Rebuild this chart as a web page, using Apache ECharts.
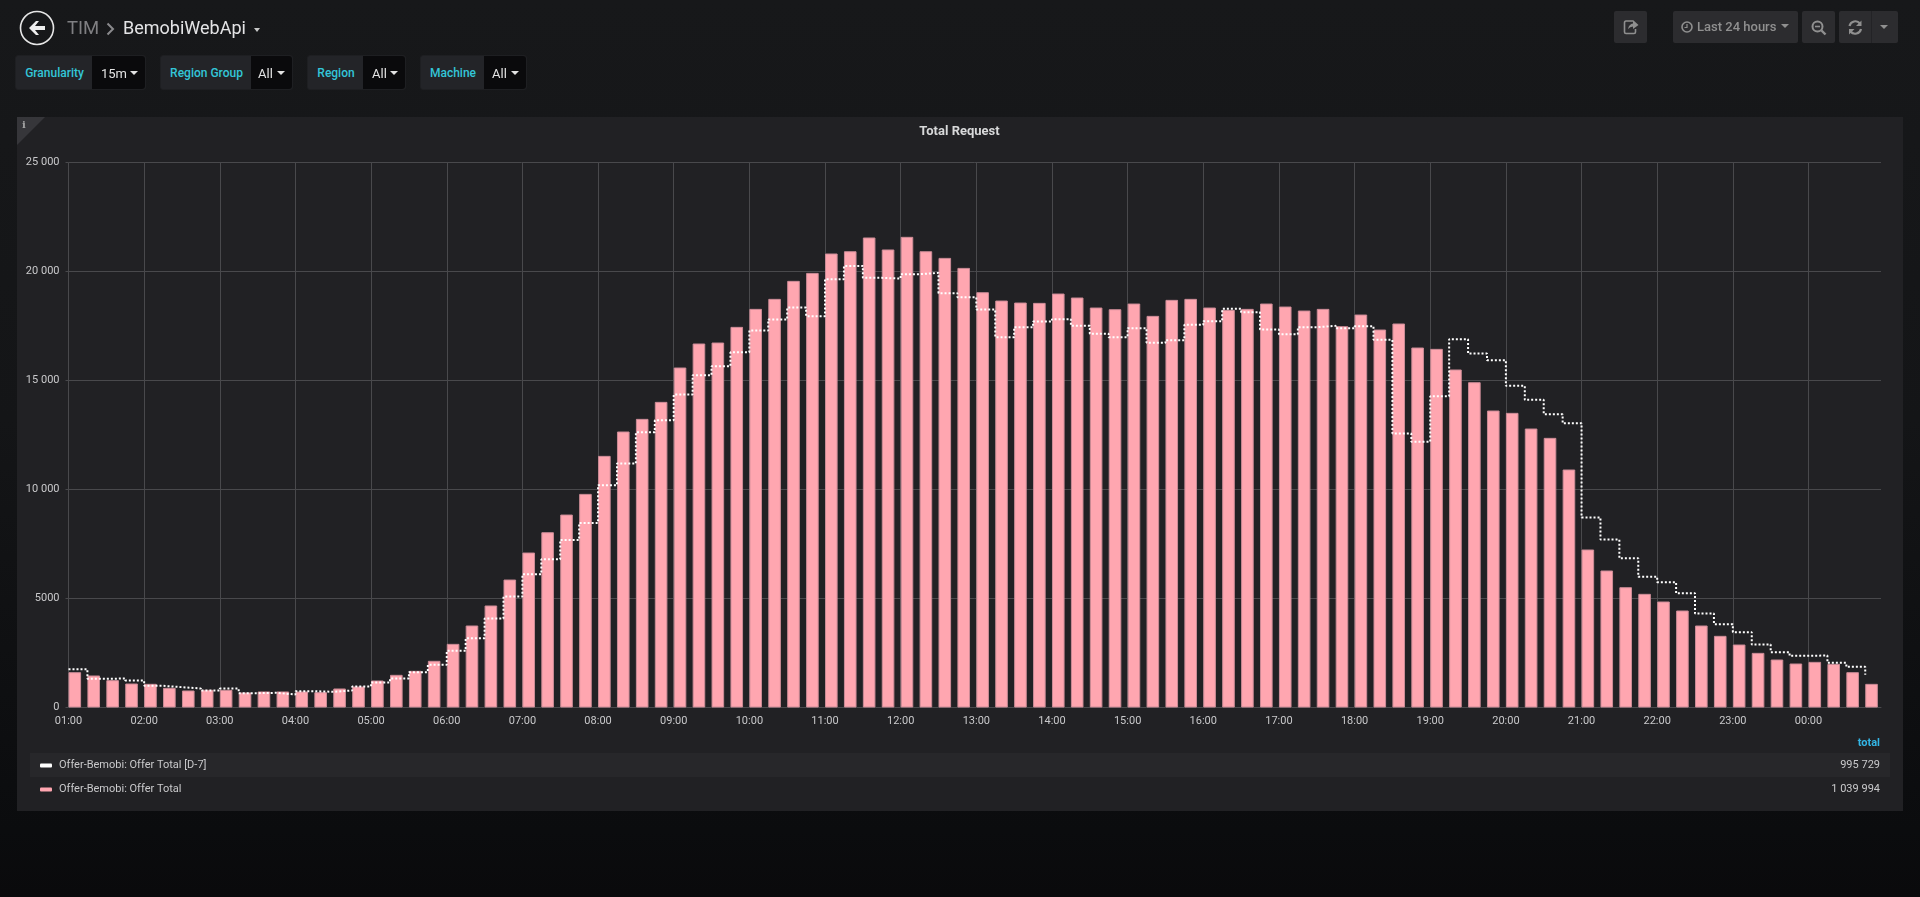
<!DOCTYPE html>
<html>
<head>
<meta charset="utf-8">
<title>Total Request</title>
<script src="https://cdn.jsdelivr.net/npm/echarts@6/dist/echarts.min.js"></script>
<style>
html,body{margin:0;padding:0;width:1920px;height:897px;overflow:hidden;background:linear-gradient(#17181a 0,#141517 420px,#0b0c0e 830px,#0a0a0c 897px);font-family:Roboto,sans-serif}
#chart{position:absolute;left:0;top:0;width:1920px;height:897px;z-index:2}
.panel{position:absolute;left:17px;top:117px;width:1886px;height:694px;background:#212124;z-index:1}
.corner{position:absolute;left:17px;top:117px;width:0;height:0;border-top:28px solid #36363a;border-right:28px solid transparent;z-index:3}
.i{position:absolute;left:22px;top:119px;font:bold 10px "DejaVu Serif",serif;color:#a5a5a5;z-index:4}
.nav{position:absolute;z-index:4;white-space:nowrap}
.var{position:absolute;top:55px;height:35px;background:#232428;border:1px solid #1e1f22;border-radius:3px;box-sizing:border-box;z-index:4}
.var .l{position:absolute;top:0;bottom:0;left:0;line-height:34px;text-align:center;font-size:12px;font-weight:500;color:#33c6d8}
.var .v{position:absolute;top:0;bottom:0;right:0;background:#0a0a0c;line-height:35px;font-size:13px;color:#e3e3e3;border-radius:0 3px 3px 0}
.caret{position:absolute;width:0;height:0;border-left:4px solid transparent;border-right:4px solid transparent;border-top:4px solid #e3e3e3}
.btn{position:absolute;top:11px;height:32px;background:#2c2c2f;border-radius:2px;z-index:4;color:#909090;font-size:13px;font-weight:500;line-height:32px;box-sizing:border-box}
svg{position:absolute;overflow:visible}
</style>
</head>
<body>
<div class="panel"></div>
<div class="corner"></div>
<div class="i">i</div>

<svg style="left:0;top:0;z-index:4" width="80" height="56">
  <circle cx="37" cy="28" r="16.5" fill="none" stroke="#e6e6e6" stroke-width="1.6"/>
  <path d="M29 28 L36 21 L39 21 L35 26 L45 26 L45 30 L35 30 L39 35 L36 35 Z" fill="#eeeeee"/>
</svg>
<div class="nav" style="left:67px;top:16px;font-size:18.500px;line-height:24px;color:#7f7f82">TIM</div>
<svg style="left:106px;top:22px;z-index:4" width="10" height="14"><path d="M1.5 1.5 L7 7 L1.5 12.5" fill="none" stroke="#8a8a8d" stroke-width="2"/></svg>
<div class="nav" style="left:123px;top:16px;font-size:18px;line-height:24px;color:#e4e4e6">BemobiWebApi</div>
<div class="caret" style="left:254px;top:28px;z-index:4;border-left-width:3.5px;border-right-width:3.5px;border-top-color:#c8c8c8"></div>

<div class="var" style="left:15px;width:131px"><div class="l" style="width:77px">Granularity</div><div class="v" style="width:53px"><span style="position:absolute;left:9px">15m</span><i class="caret" style="left:38px;top:15px"></i></div></div>
<div class="var" style="left:160px;width:133px"><div class="l" style="width:91px">Region Group</div><div class="v" style="width:41px"><span style="position:absolute;left:7px">All</span><i class="caret" style="left:26px;top:15px"></i></div></div>
<div class="var" style="left:307px;width:99px"><div class="l" style="width:56px">Region</div><div class="v" style="width:42px"><span style="position:absolute;left:9px">All</span><i class="caret" style="left:27px;top:15px"></i></div></div>
<div class="var" style="left:420px;width:107px"><div class="l" style="width:64px">Machine</div><div class="v" style="width:42px"><span style="position:absolute;left:8px">All</span><i class="caret" style="left:27px;top:15px"></i></div></div>

<div class="btn" style="left:1614px;width:33px">
  <svg style="left:9px;top:7px" width="16" height="18"><path d="M10 3 H3 Q1.500 3 1.500 5 V14 Q1.500 15.500 3 15.500 H11 Q12.500 15.500 12.500 14 V11" fill="none" stroke="#8f8f8f" stroke-width="1.600"/><path d="M5 11 Q6 6 10 5.500 V2 L15.500 7 L10 11 V8.500 Q7 8.500 5 11 Z" fill="#8f8f8f"/></svg>
</div>
<div class="btn" style="left:1673px;width:125px">
  <svg style="left:8px;top:10px" width="13" height="13"><circle cx="6" cy="6" r="5" fill="none" stroke="#909090" stroke-width="1.600"/><path d="M6 3 V6.500 H3.500" fill="none" stroke="#909090" stroke-width="1.200"/></svg>
  <span style="position:absolute;left:24px;white-space:nowrap">Last 24 hours</span>
  <i class="caret" style="left:108px;top:13px;border-top-color:#909090"></i>
</div>
<div class="btn" style="left:1802px;width:33px">
  <svg style="left:9px;top:9px" width="16" height="16"><circle cx="6.500" cy="6.500" r="5" fill="none" stroke="#909090" stroke-width="2"/><path d="M4 6.500 H9" stroke="#909090" stroke-width="1.600"/><path d="M10.500 10.500 L14.500 14.500" stroke="#909090" stroke-width="2.400"/></svg>
</div>
<div class="btn" style="left:1839px;width:59px">
  <svg style="left:9px;top:9px" width="15" height="15"><path d="M1.500 6 A6 6 0 0 1 12 3.500" fill="none" stroke="#909090" stroke-width="2.200"/><path d="M13.500 0.500 V6 H8 Z" fill="#909090"/><path d="M13 9 A6 6 0 0 1 2.500 11.500" fill="none" stroke="#909090" stroke-width="2.200"/><path d="M1 14.500 V9 H6.500 Z" fill="#909090"/></svg>
  <div style="position:absolute;left:31.500px;top:0;bottom:0;width:1px;background:#232326"></div>
  <i class="caret" style="left:41px;top:14px;border-top-color:#909090"></i>
</div>

<div id="chart"></div>

<script>
var slotMinutes = [];
for (var m = 0; m < 96; m++) { slotMinutes.push(m * 15); }

var offerTotal = [
  1620,1468,1254,1100,1086,902,780,810,810,688,734,734,734,703,872,963,
  1238,1498,1682,2141,2920,3761,4679,5870,7108,8041,8851,9799,11543,12660,13240,14020,
  15595,16697,16742,17460,18286,18745,19570,19935,20825,20930,21560,21010,21590,20930,20625,20165,
  19050,18668,18576,18561,18989,18806,18347,18271,18530,17965,18699,18745,18347,18240,18286,18530,
  18393,18209,18286,17491,18026,17338,17614,16513,16452,15504,14923,13623,13516,12797,12369,10917,
  7247,6284,5519,5214,4862,4449,3761,3287,2889,2507,2201,2018,2094,2002,1620,1085
];

var offerTotalD7 = [
  1758,1315,1330,1238,994,933,872,780,872,657,673,596,749,719,780,963,
  1147,1330,1621,1957,2599,3180,4081,5090,6114,6803,7689,8469,10198,11191,12628,13179,
  14356,15243,15656,16298,17292,17797,18347,17949,19647,20258,19708,19677,19876,19937,19004,18821,
  18255,16986,17445,17705,17812,17506,17139,16986,17399,16726,16849,17552,17720,18286,18133,17338,
  17124,17445,17506,17399,17491,16864,12568,12186,14280,16895,16238,15932,14754,14112,13455,13042,
  8715,7706,6850,5993,5749,5244,4311,3822,3455,2889,2538,2370,2385,2048,1865,1498
];

var seriesNames = ['Offer-Bemobi: Offer Total [D-7]', 'Offer-Bemobi: Offer Total'];
var seriesTotals = ['995 729', '1 039 994'];
var yTicks = { 0:'0', 5000:'5000', 10000:'10 000', 15000:'15 000', 20000:'20 000', 25000:'25 000' };
var chartTitle = 'Total Request';
var firstHour = 1;

var GRID = '#49494c', TEXT = '#c9c9cb';
var barSpan = 10; // bar width in minutes; Grafana draws each bar from its timestamp rightward

function hourLabel(v) {
  if (v % 60 !== 0) return '';
  var h = (firstHour + v / 60) % 24;
  return (h < 10 ? '0' : '') + h + ':00';
}

var chart = echarts.init(document.getElementById('chart'), null, { renderer: 'canvas', width: 1920, height: 897 });
chart.setOption({
  backgroundColor: 'transparent',
  animation: false,
  textStyle: { fontFamily: 'Roboto' },
  title: {
    text: chartTitle, left: 954.5, top: 120, textAlign: 'center',
    textStyle: { color: '#d8d9da', fontSize: 13, fontWeight: 'bold', fontFamily: 'Roboto' }
  },
  grid: { left: 68.5, top: 162.5, width: 1812.5, height: 545 },
  xAxis: {
    type: 'value', min: 0, max: 1437.5, interval: 60,
    axisLine: { show: true, onZero: true, lineStyle: { color: GRID, width: 1 } },
    axisTick: { show: false },
    axisLabel: {
      color: TEXT, fontSize: 11, margin: 8, fontFamily: 'Roboto',
      formatter: hourLabel, showMaxLabel: false, hideOverlap: false
    },
    splitLine: { show: true, showMaxLine: false, lineStyle: { color: GRID, width: 1 } }
  },
  yAxis: {
    type: 'value', min: 0, max: 25000, interval: 5000,
    axisLine: { show: false },
    axisTick: { show: true, length: 3, lineStyle: { color: GRID } },
    axisLabel: {
      color: TEXT, fontSize: 11, margin: 9, fontFamily: 'Roboto',
      formatter: function (v) { return yTicks[v]; }
    },
    splitLine: { show: true, lineStyle: { color: GRID, width: 1 } }
  },
  legend: {
    orient: 'vertical', left: 35, top: 755, itemGap: 13, itemWidth: 12, itemHeight: 4,
    selectedMode: false,
    data: [
      { name: seriesNames[0], icon: 'roundRect', itemStyle: { color: '#ffffff', borderWidth: 0 }, lineStyle: { width: 0 } },
      { name: seriesNames[1], icon: 'roundRect', itemStyle: { color: '#ffa6b0', borderWidth: 0 } }
    ],
    textStyle: { color: '#c9c9cb', fontSize: 11, fontFamily: 'Roboto', padding: [0, 0, 0, 2] }
  },
  graphic: [
    { type: 'rect', z: -1, shape: { x: 30, y: 753, width: 1860, height: 24 }, style: { fill: '#27272a' } },
    { type: 'text', z: 5, style: { x: 1880, y: 743, text: 'total', textAlign: 'right', textVerticalAlign: 'middle', fill: '#33b5e5', font: 'bold 11px Roboto' } },
    { type: 'text', z: 5, style: { x: 1880, y: 765, text: seriesTotals[0], textAlign: 'right', textVerticalAlign: 'middle', fill: '#c9c9cb', font: '11px Roboto' } },
    { type: 'text', z: 5, style: { x: 1880, y: 789, text: seriesTotals[1], textAlign: 'right', textVerticalAlign: 'middle', fill: '#c9c9cb', font: '11px Roboto' } }
  ],
  series: [
    {
      name: seriesNames[1], type: 'bar', z: 2,
      barWidth: 12.6,
      itemStyle: { color: '#ffa6b0', borderColor: '#cc8c97', borderWidth: 1 },
      data: slotMinutes.map(function (t, i) { return [t + barSpan / 2, offerTotal[i]]; })
    },
    {
      name: seriesNames[0], type: 'line', z: 3, step: 'end', showSymbol: false, symbol: 'none',
      lineStyle: { color: '#ffffff', width: 2, type: [2, 2] },
      data: slotMinutes.map(function (t, i) { return [t, offerTotalD7[i]]; })
    }
  ]
});
</script>
</body>
</html>
